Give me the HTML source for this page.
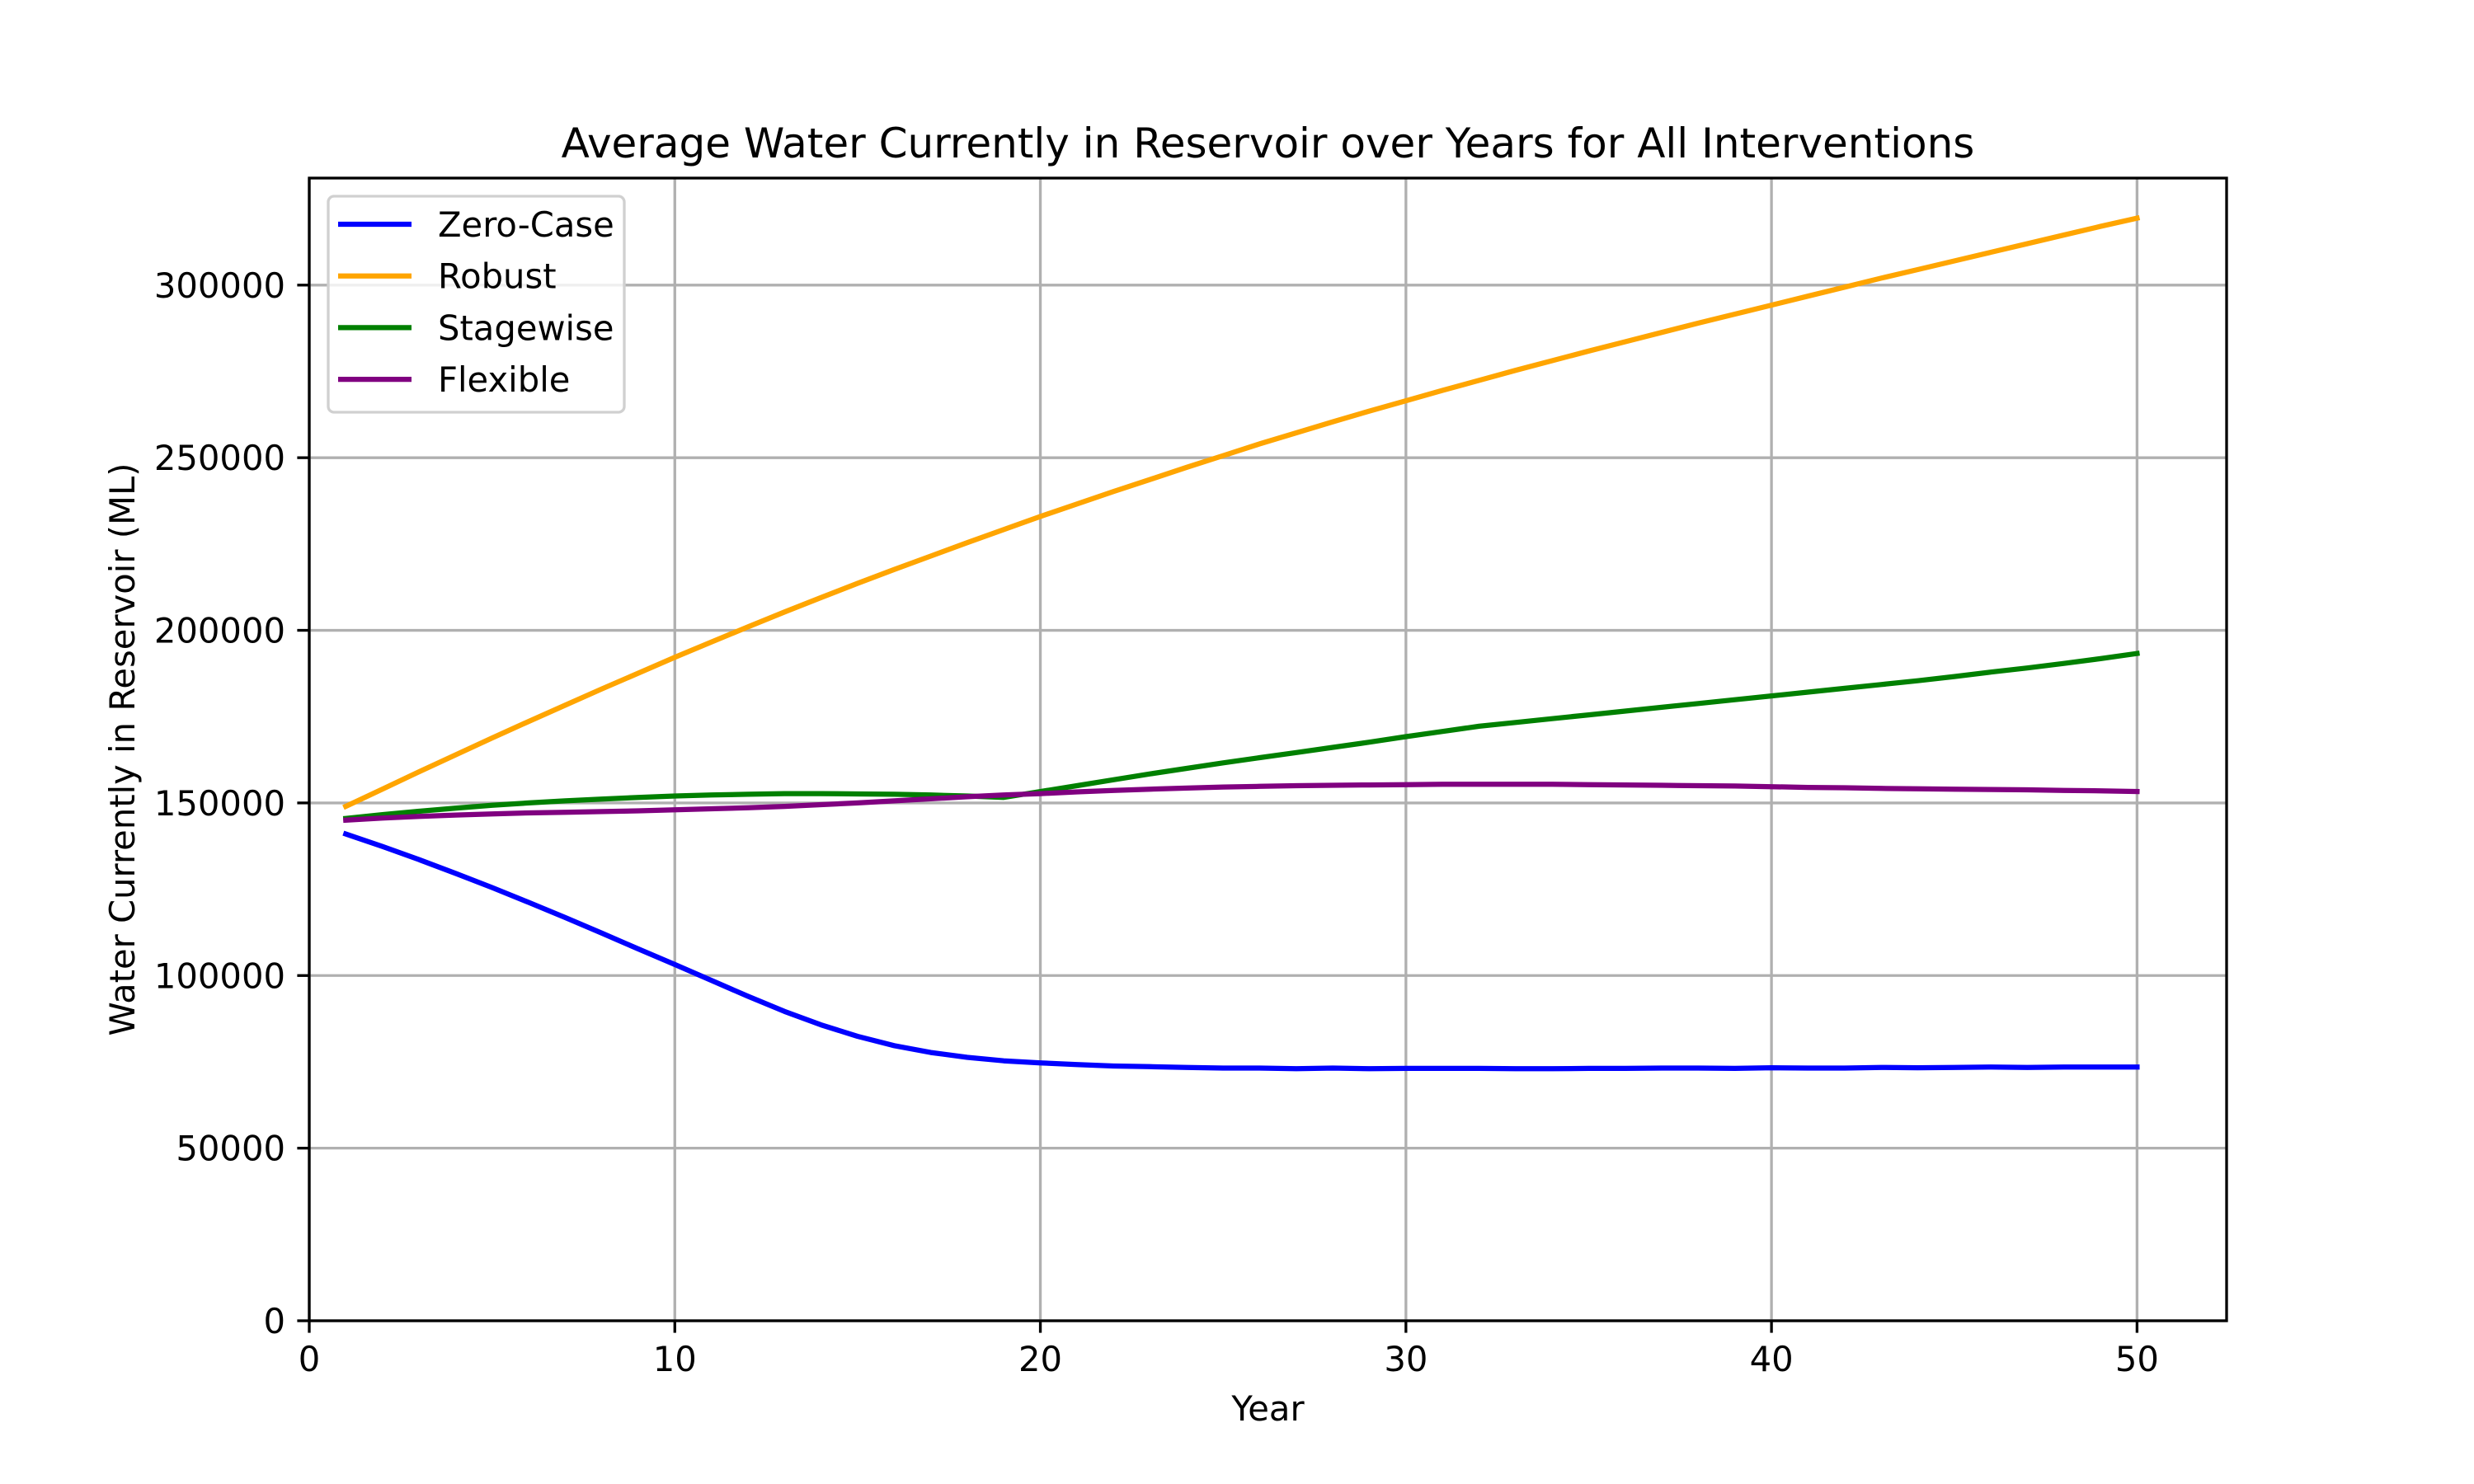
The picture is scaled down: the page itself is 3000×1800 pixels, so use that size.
<!DOCTYPE html>
<html><head><meta charset="utf-8"><style>
html,body{margin:0;padding:0;background:#fff;}
svg{display:block;font-family:"DejaVu Sans","Liberation Sans",sans-serif;}
</style></head><body>
<svg id="chart" width="3000" height="1800" viewBox="0 0 3000 1800" xmlns="http://www.w3.org/2000/svg">
<rect width="3000" height="1800" fill="#fff"/>
<text x="1537.5" y="191" font-size="50" text-anchor="middle">Average Water Currently in Reservoir over Years for All Interventions</text>
<g id="grid"></g>
<g id="series"></g>
<rect x="375" y="216" width="2325" height="1386" fill="none" stroke="#000" stroke-width="3.33"/>
<g id="ticks"></g>
<text x="1537.5" y="1723" font-size="41.7" text-anchor="middle">Year</text>
<text transform="translate(163,909) rotate(-90)" font-size="41.7" text-anchor="middle">Water Currently in Reservoir (ML)</text>
<g>
<rect x="398" y="238" width="359" height="262" rx="7" fill="#fff" fill-opacity="0.8" stroke="#d0d0d0" stroke-width="3.33"/>
<g id="legend-entries"></g>
</g>
</svg>
<script>
const years = Array.from({length:50},(_,i)=>i+1);
const zeroCase = [141,137.4,133.6,129.6,125.5,121.2,116.8,112.3,107.7,103.2,98.6,94,89.6,85.7,82.4,79.7,77.7,76.3,75.3,74.7,74.2,73.8,73.6,73.4,73.2,73.2,73,73.2,73,73.1,73.1,73.1,73,73,73.1,73.1,73.2,73.2,73.1,73.3,73.2,73.2,73.4,73.3,73.4,73.5,73.4,73.5,73.5,73.5].map(v=>v*1000);
const robust = [149,154,159,163.9,168.8,173.6,178.3,183,187.6,192.2,196.6,201,205.3,209.5,213.6,217.6,221.5,225.4,229.2,233,236.6,240.2,243.7,247.2,250.6,254,257.2,260.4,263.5,266.5,269.5,272.4,275.3,278.1,280.9,283.6,286.3,289,291.6,294.2,296.8,299.4,302,304.5,307,309.5,312,314.5,317,319.4].map(v=>v*1000);
const stagewise = [145.5,146.6,147.6,148.5,149.3,150,150.6,151.1,151.6,152,152.3,152.5,152.7,152.7,152.6,152.5,152.3,152,151.6,153.3,155,156.7,158.4,160,161.6,163.1,164.6,166.1,167.6,169.2,170.7,172.2,173.3,174.4,175.5,176.6,177.7,178.8,179.9,181,182.1,183.2,184.3,185.4,186.6,187.9,189.1,190.4,191.8,193.3].map(v=>v*1000);
const flexible = [145,145.6,146.1,146.5,146.8,147.1,147.3,147.5,147.7,148,148.3,148.6,149,149.5,150,150.6,151.2,151.8,152.3,152.7,153.2,153.6,154,154.3,154.6,154.8,155,155.1,155.2,155.3,155.4,155.4,155.4,155.4,155.3,155.2,155.1,155,154.9,154.7,154.5,154.4,154.2,154.1,154,153.9,153.8,153.6,153.5,153.3].map(v=>v*1000);
const seriesNames = ["Zero-Case","Robust","Stagewise","Flexible"];
const xTicks = [0,10,20,30,40,50];
const yTicks = [0,50000,100000,150000,200000,250000,300000];

const NS="http://www.w3.org/2000/svg";
const L=375,R=2700,T=216,B=1602, X0=0,X1=52.45, Y0=0,Y1=331000;
const sx=v=>L+(v-X0)/(X1-X0)*(R-L);
const sy=v=>B-(v-Y0)/(Y1-Y0)*(B-T);
function mk(tag,attrs,parent){const e=document.createElementNS(NS,tag);for(const k in attrs)e.setAttribute(k,attrs[k]);parent.appendChild(e);return e;}
const grid=document.getElementById('grid'),ticks=document.getElementById('ticks');
xTicks.forEach(t=>{
  const g=mk('line',{x1:sx(t),x2:sx(t),y1:T,y2:B,stroke:'#b0b0b0','stroke-width':3.33},grid);
  
  
  const tk=mk('line',{x1:sx(t),x2:sx(t),y1:B,y2:B+14.6,stroke:'#000','stroke-width':3.33},ticks);
  
  
  const tx=mk('text',{x:sx(t),y:B+61,'font-size':41.7,'text-anchor':'middle'},ticks);
  tx.textContent=t;
  
  
});
yTicks.forEach(t=>{
  const g=mk('line',{x1:L,x2:R,y1:sy(t),y2:sy(t),stroke:'#b0b0b0','stroke-width':3.33},grid);
  
  
  const tk=mk('line',{x1:L-14.6,x2:L,y1:sy(t),y2:sy(t),stroke:'#000','stroke-width':3.33},ticks);
  
  
  const tx=mk('text',{x:L-29,y:sy(t)+15,'font-size':41.7,'text-anchor':'end'},ticks);
  tx.textContent=t;
  
  
});
const data=[zeroCase,robust,stagewise,flexible];
const colors=['#0000ff','#ffa500','#008000','#800080'];
const ser=document.getElementById('series');
data.forEach((d,i)=>{
  const pts=d.map((v,j)=>sx(years[j]).toFixed(1)+','+sy(v).toFixed(1)).join(' ');
  const p=mk('polyline',{points:pts,fill:'none',stroke:colors[i],'stroke-width':6.25,'stroke-linejoin':'round','stroke-linecap':'square'},ser);
  
  
});
const leg=document.getElementById('legend-entries');
seriesNames.forEach((n,i)=>{
  const y=272+i*62.7;
  const l=mk('line',{x1:410,x2:499,y1:y,y2:y,stroke:colors[i],'stroke-width':6.25},leg);
  
  
  const t=mk('text',{x:531,y:y+15,'font-size':41.7},leg);
  t.textContent=n;
  
  
});
</script>
</body></html>
